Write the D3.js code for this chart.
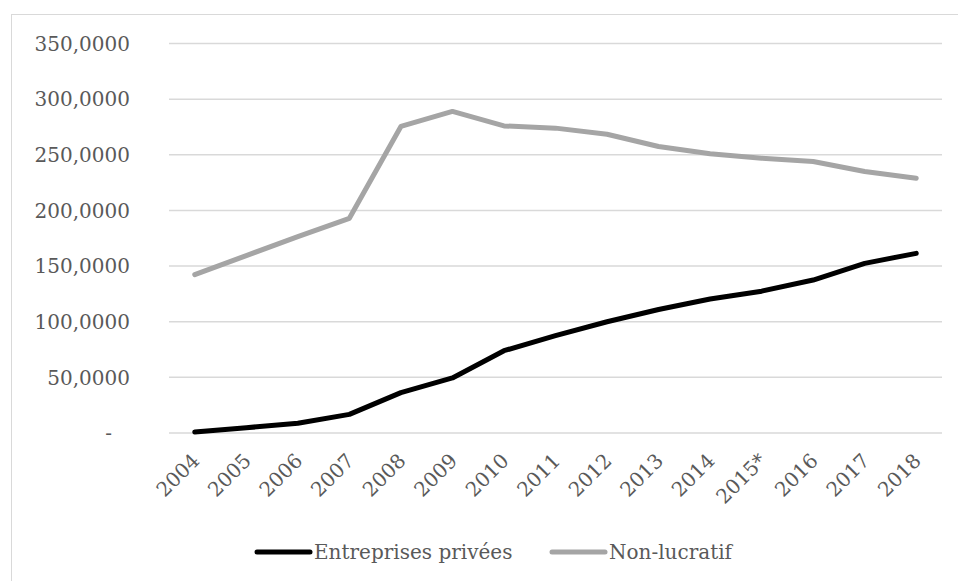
<!DOCTYPE html>
<html>
<head>
<meta charset="utf-8">
<script src="https://cdn.jsdelivr.net/npm/d3@7"></script>
<style>
  html, body { margin: 0; padding: 0; background: #fff; }
  svg { display: block; }
  text { font-family: "DejaVu Serif", "Liberation Serif", serif; fill: #595959; }
</style>
</head>
<body>
<svg id="chart" width="958" height="581"></svg>
<script>
const categories = ["2004","2005","2006","2007","2008","2009","2010","2011","2012","2013","2014","2015*","2016","2017","2018"];
const entreprisesPrivees = [0.5, 4.3, 8.3, 16.3, 35.8, 49.0, 73.5, 87, 99.5, 110.5, 120, 127, 137, 152, 161];
const nonLucratif = [141.8, 159, 176, 192.5, 275, 288.5, 275.5, 273.5, 268, 257, 250.5, 246.5, 243.5, 234.5, 228.5];
const yTicks = [0, 50, 100, 150, 200, 250, 300, 350];
const seriesNames = ["Entreprises privées", "Non-lucratif"];
const seriesColors = ["#000000", "#a5a5a5"];

const svg = d3.select("#chart");
const W = 958, H = 581;
const plot = { left: 169, right: 942, top: 43, bottom: 432.5 };

// outer chart border
svg.append("rect")
  .attr("x", 11.5).attr("y", 14.5)
  .attr("width", W + 10).attr("height", H + 10)
  .attr("fill", "none").attr("stroke", "#d9d9d9").attr("stroke-width", 1);

const x = d3.scaleBand().domain(categories).range([plot.left, plot.right]).padding(0);
const y = d3.scaleLinear().domain([0, 350]).range([plot.bottom, plot.top]);

const fmt = v => v === 0 ? "-" : d3.format(",")(v).replace(/,/g, " ") + ",0000";

// grid lines
const yAxis = d3.axisLeft(y).tickValues(yTicks).tickSize(-(plot.right - plot.left)).tickFormat(fmt).tickPadding(39);
const gy = svg.append("g").attr("transform", `translate(${plot.left},0)`).call(yAxis);
gy.select(".domain").remove();
gy.selectAll(".tick line").attr("stroke", "#d9d9d9").attr("stroke-width", 1.5);
gy.selectAll(".tick text")
  .attr("font-size", 20)
  .attr("font-family", '"DejaVu Serif", serif')
  .attr("fill", "#595959")
  .attr("dy", "0.36em")
  .each(function(d) { if (d === 0) d3.select(this).attr("dx", -18); });

// x axis labels
const xAxis = d3.axisBottom(x).tickSize(0).tickPadding(0);
const gx = svg.append("g").attr("transform", `translate(0,${plot.bottom})`).call(xAxis);
gx.select(".domain").remove();
gx.selectAll(".tick text")
  .attr("font-size", 20)
  .attr("font-family", '"DejaVu Serif", serif')
  .attr("fill", "#595959")
  .attr("text-anchor", "end")
  .attr("y", 0).attr("dy", 0)
  .attr("transform", "translate(6,29.5) rotate(-45)");

// lines
const line = d3.line()
  .x((d, i) => x(categories[i]) + x.bandwidth() / 2)
  .y(d => y(d));

[entreprisesPrivees, nonLucratif].forEach((s, k) => {
  svg.append("path")
    .datum(s)
    .attr("d", line)
    .attr("fill", "none")
    .attr("stroke", seriesColors[k])
    .attr("stroke-width", 5)
    .attr("stroke-linecap", "round")
    .attr("stroke-linejoin", "round");
});

// legend
const legendY = 552;
const legendItems = [
  { x1: 257, x2: 310, tx: 314 },
  { x1: 552, x2: 605, tx: 609 }
];
legendItems.forEach((it, k) => {
  svg.append("line")
    .attr("x1", it.x1).attr("x2", it.x2)
    .attr("y1", legendY).attr("y2", legendY)
    .attr("stroke", seriesColors[k]).attr("stroke-width", 5)
    .attr("stroke-linecap", "round");
  svg.append("text")
    .attr("x", it.tx).attr("y", legendY)
    .attr("dy", "0.36em")
    .attr("font-size", 20)
    .text(seriesNames[k]);
});
</script>
</body>
</html>
